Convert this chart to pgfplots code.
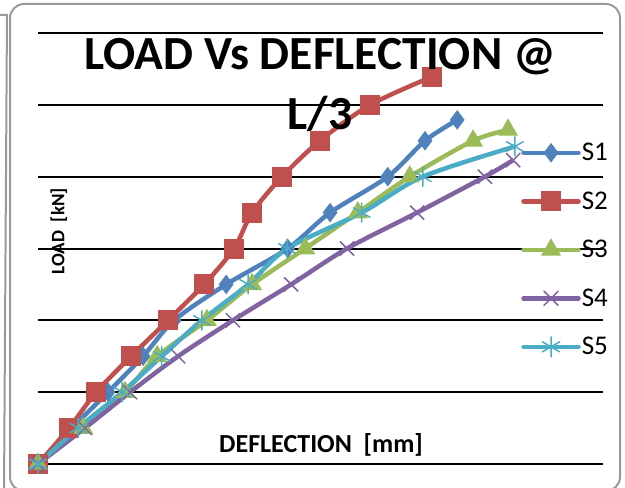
\documentclass[border=0pt]{standalone}
\usepackage{fontspec}
\setmainfont{Carlito}
\usepackage{pgfplots}
\pgfplotsset{compat=1.18}
\definecolor{cS1}{HTML}{4F81BD}
\definecolor{cS2}{HTML}{C0504D}
\definecolor{cS3}{HTML}{9BBB59}
\definecolor{cS4}{HTML}{8064A2}
\definecolor{cS5}{HTML}{4BACC6}
\definecolor{frame}{HTML}{9A9A9A}
\begin{document}
\begin{tikzpicture}[x=1pt,y=1pt]
% outer frames
\draw[frame, line width=2pt, rounded corners=14pt] (10,484) rectangle (620,-3);
\draw[frame, line width=2pt] (0,473) -- (7,473) -- (4,-5);
\begin{axis}[
  at={(38pt,24pt)}, anchor=south west,
  scale only axis, width=565pt, height=431pt,
  xmin=0, xmax=10, ymin=0, ymax=60,
  axis line style={draw=none},
  xtick=\empty, ytick={0,10,...,60}, yticklabels={},
  major tick length=0pt,
  ymajorgrids, grid style={black, line width=2pt},
  clip=false,
  title={LOAD Vs DEFLECTION @\\[3pt]L/3},
  title style={at={(axis description cs:0.499,1)}, anchor=north, yshift=-11pt, align=center,
    font=\fontsize{47.5}{57}\selectfont\bfseries, inner sep=0pt},
  xlabel={DEFLECTION\ \ [mm]},
  xlabel style={at={(axis description cs:0.501,0.044)}, anchor=center,
    font=\fontsize{26}{26}\selectfont\bfseries, inner sep=0pt},
  ylabel={LOAD\ \ [kN]},
  ylabel style={at={(axis description cs:0.037,0.54)}, anchor=center,
    font=\fontsize{19}{19}\selectfont\bfseries, inner sep=0pt},
  every axis plot/.append style={line width=4.5pt, smooth, tension=0.5},
  legend image code/.code={
    \draw[mark repeat=2,mark phase=2,#1,line cap=round] plot coordinates {(0pt,0pt) (27.5pt,0pt) (55pt,0pt)};
  },
  legend cell align=left,
  legend style={at={(axis description cs:0.855,0.747)}, anchor=north west,
    draw=none, fill=none, font=\fontsize{27}{27}\selectfont,
    row sep=27.5pt, inner sep=0pt,
    nodes={inner sep=1pt}},
]
\addplot[cS1, mark=diamond*, mark size=9pt, mark options={line width=1pt, solid}] coordinates {
(0,0)(0.60,5)(1.24,10)(1.86,15)(2.41,20)(3.33,25)(4.42,30)(5.17,35)(6.19,40)(6.85,45)(7.42,47.9)};
\addlegendentry{S1}
\addplot[cS2, mark=square*, mark size=9.5pt, mark options={line width=1pt, solid}] coordinates {
(0,0)(0.55,5)(1.03,10)(1.65,15)(2.30,20)(2.94,25)(3.47,30)(3.79,35)(4.32,40)(4.99,45)(5.88,50)(6.97,53.9)};
\addlegendentry{S2}
\addplot[cS3, mark=triangle*, mark size=10.5pt, mark options={line width=1pt, solid}] coordinates {
(0,0)(0.80,5)(1.54,10)(2.11,15)(2.99,20)(3.79,25)(4.73,30)(5.66,35)(6.58,40)(7.70,45)(8.32,46.5)};
\addlegendentry{S3}
\addplot[cS4, mark=x, mark size=10pt, mark options={line width=1.5pt, solid}] coordinates {
(0,0)(0.83,5)(1.63,10)(2.48,15)(3.45,20)(4.48,25)(5.47,30)(6.71,35)(7.91,40)(8.41,42.3)};
\addlegendentry{S4}
\addplot[cS5, mark=asterisk, mark size=10pt, mark options={line width=1.5pt, solid}] coordinates {
(0,0)(0.71,5)(1.49,10)(2.19,15)(2.90,20)(3.72,25)(4.41,30)(5.73,35)(6.81,40)(8.44,44.2)};
\addlegendentry{S5}
\end{axis}
\pgfresetboundingbox
\path[use as bounding box] (0,0) rectangle (625,488);
\end{tikzpicture}
\end{document}
